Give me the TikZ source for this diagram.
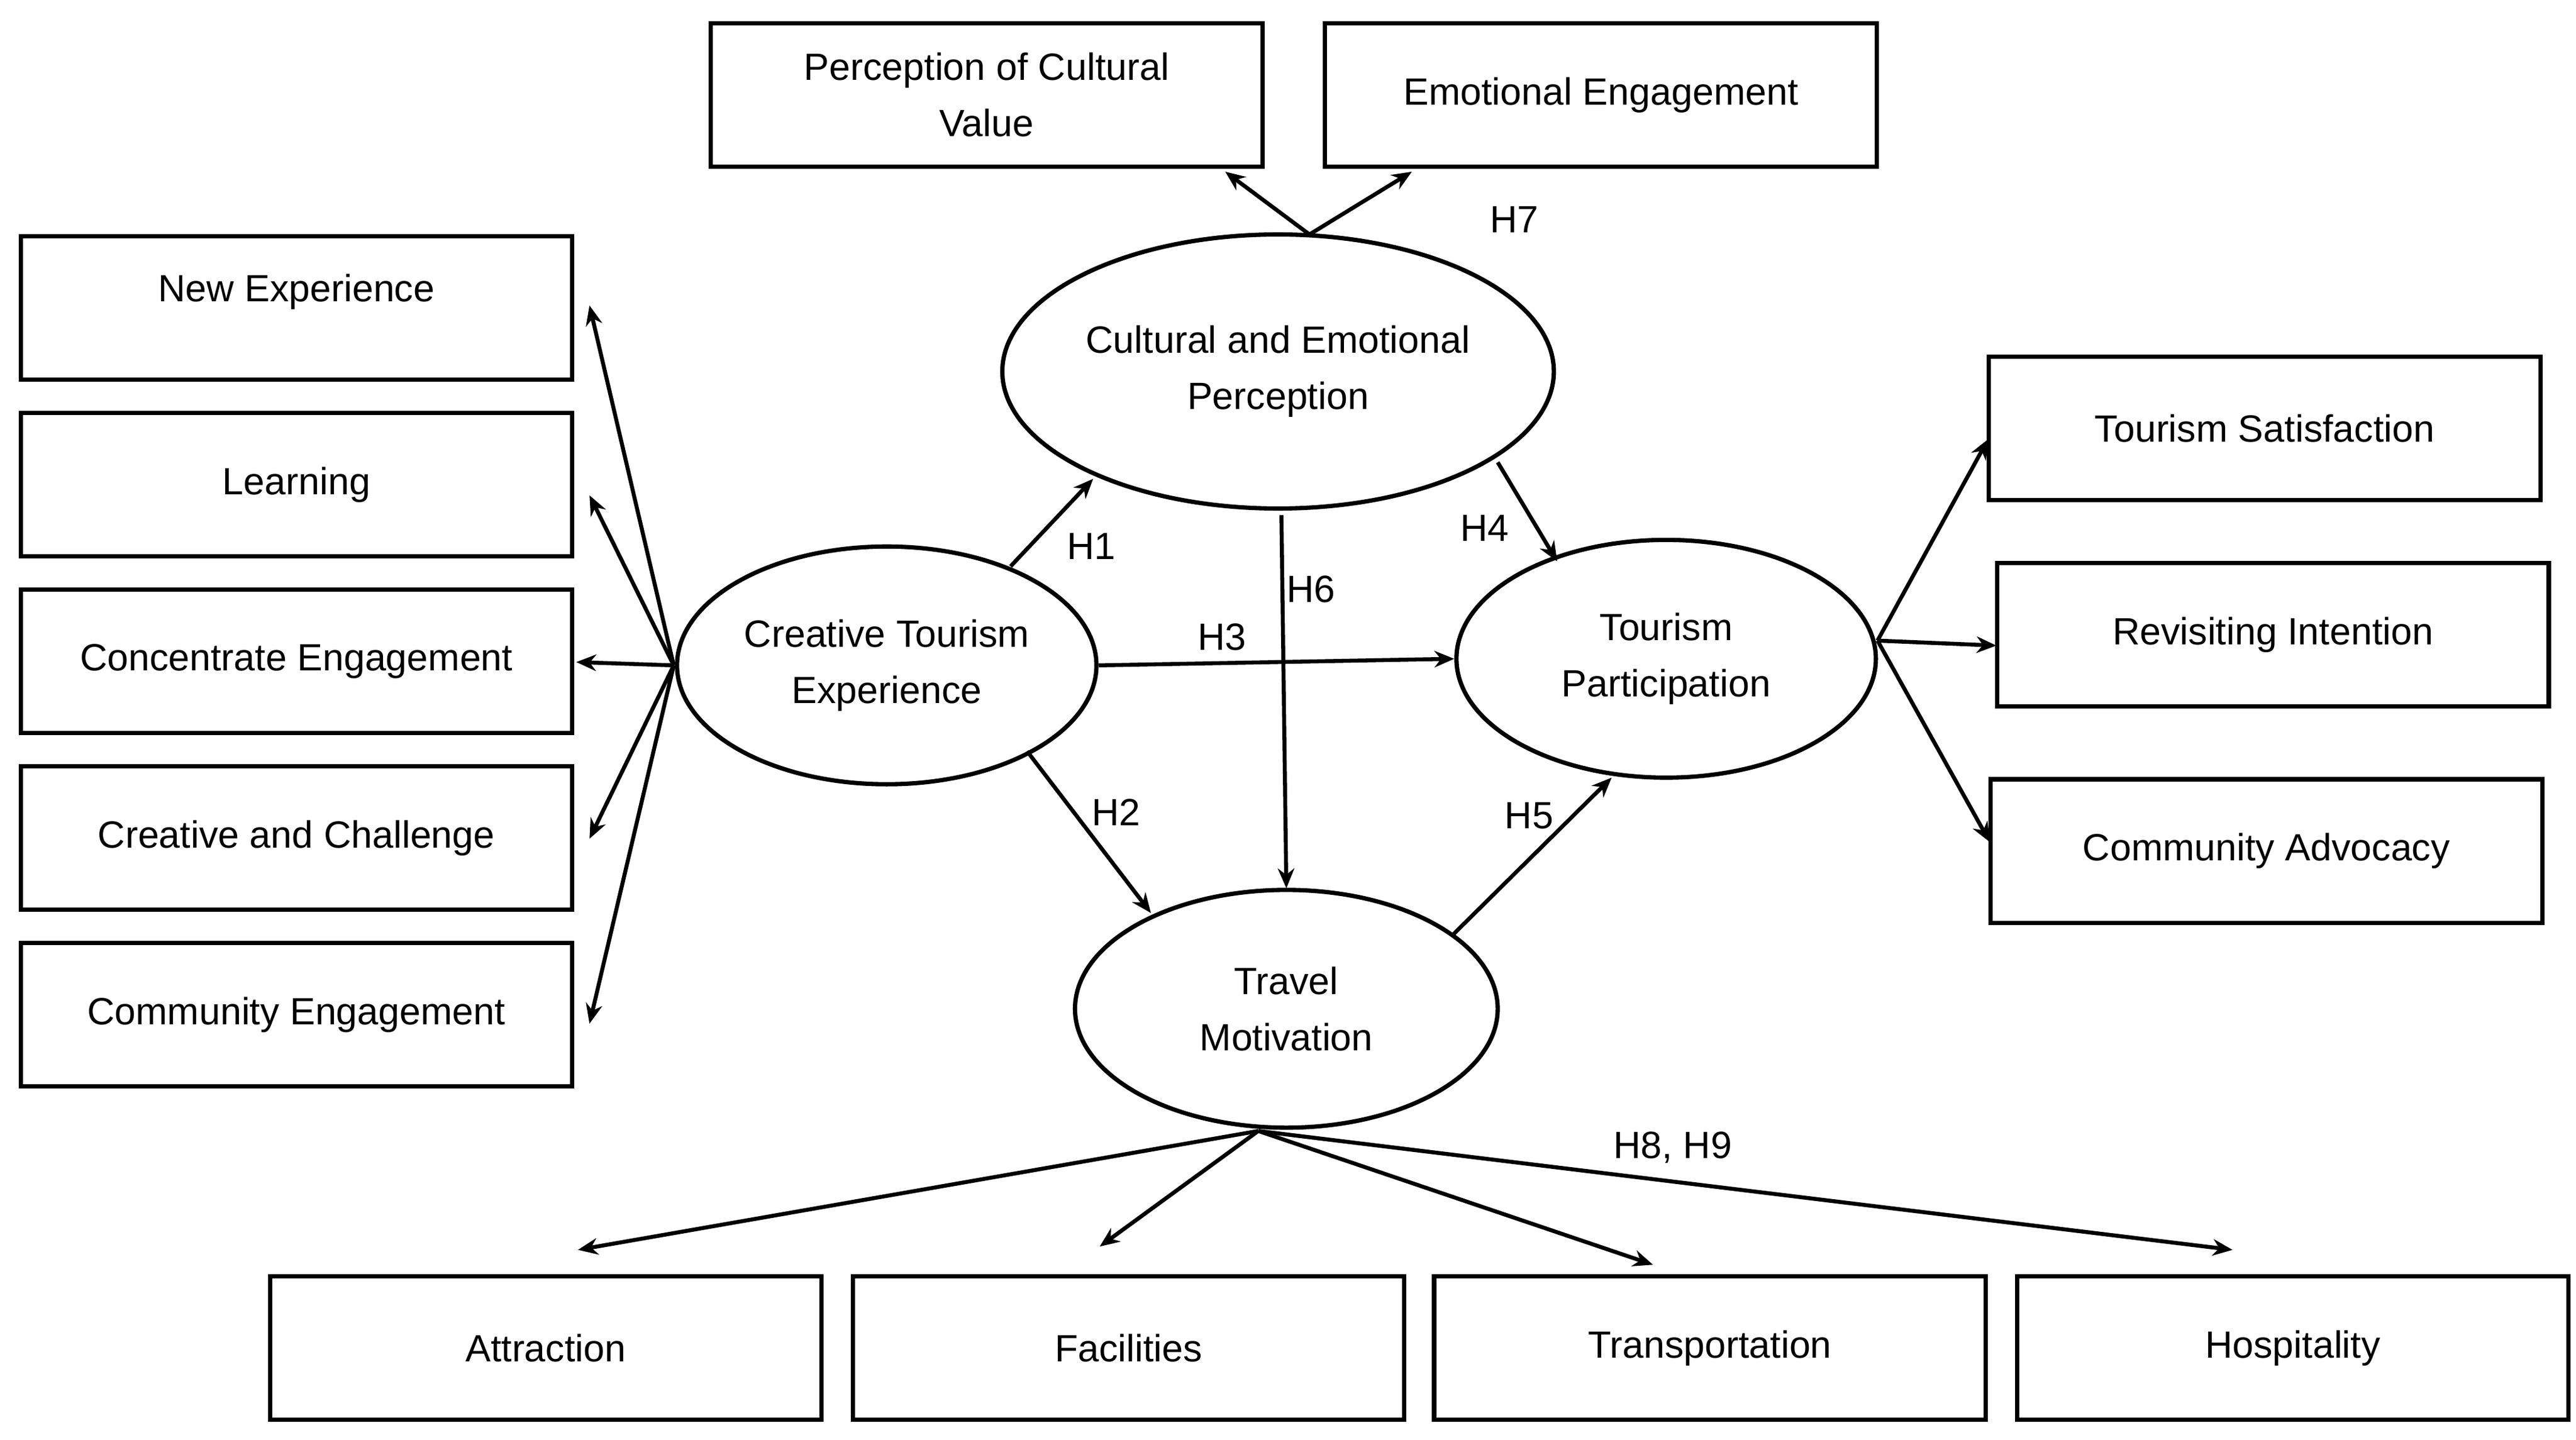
\documentclass[tikz,border=0pt]{standalone}
\usepackage{fontspec}
\setmainfont{Liberation Sans}
\usetikzlibrary{arrows.meta,shapes.geometric}
\begin{document}
\begin{tikzpicture}[x=0.5pt,y=-0.5pt,
 box/.style={draw,line width=1.3pt,minimum width=167pt,minimum height=43.5pt,align=center,font=\fontsize{11.5}{17}\selectfont,inner sep=0pt},
 ell/.style={draw,ellipse,line width=1.3pt,align=center,font=\fontsize{11.5}{17}\selectfont,inner sep=0pt},
 arr/.style={line width=1.2pt,-{Stealth[length=6pt,width=5pt]}},
 lab/.style={font=\fontsize{11.5}{14}\selectfont}]
\useasboundingbox (0,0) rectangle (1560,872);
\node[box] (ne) at (179.5,186.5) {\raisebox{12pt}{New Experience}};
\node[box] (le) at (179.5,293.5) {Learning};
\node[box] (ce) at (179.5,400.5) {Concentrate Engagement};
\node[box] (cc) at (179.5,507.5) {Creative and Challenge};
\node[box] (co) at (179.5,614.5) {Community Engagement};
\node[box] (pc) at (597.5,57.5) {Perception of Cultural\\Value};
\node[box] (ee) at (969.5,57.5) {Emotional Engagement};
\node[box] (ts) at (1371.5,259.5) {Tourism Satisfaction};
\node[box] (ri) at (1376.5,384.5) {Revisiting Intention};
\node[box] (ca) at (1372.5,515.5) {Community Advocacy};
\node[box] (at) at (330.5,816.5) {Attraction};
\node[box] (fa) at (683.5,816.5) {Facilities};
\node[box] (tr) at (1035.5,816.5) {Transportation};
\node[box] (ho) at (1388.5,816.5) {Hospitality};
\node[ell,minimum width=167pt,minimum height=83pt] (cep) at (774,225) {Cultural and Emotional\\Perception};
\node[ell,minimum width=127pt,minimum height=72pt] (cte) at (537,403) {Creative Tourism\\Experience};
\node[ell,minimum width=127pt,minimum height=72pt] (tp) at (1009,399) {Tourism\\Participation};
\node[ell,minimum width=128pt,minimum height=72pt] (tm) at (779,611) {Travel\\Motivation};
\coordinate (l0) at (408,403);
\coordinate (a1) at (357,185); \coordinate (a2) at (357,300); \coordinate (a3) at (349,401);
\coordinate (a4) at (357,508); \coordinate (a5) at (357,620);
\foreach \t in {a1,a2,a3,a4,a5} \draw[arr] (l0) -- (\t);
\coordinate (t0) at (793,142);
\coordinate (b1) at (742,104); \coordinate (b2) at (855,104);
\draw[arr] (t0) -- (b1); \draw[arr] (t0) -- (b2);
\draw[arr] (612,343) -- (662,290);
\draw[arr] (cte.east) -- (tp.west);
\draw[arr] (622,455) -- (697,553);
\draw[arr] (776,312) -- (779,538);
\draw[arr] (907,280) -- (943,340);
\draw[arr] (880,566) -- (976,471);
\coordinate (r0) at (1137,388);
\draw[arr] (r0) -- (1204,266); \draw[arr] (r0) -- (1209,391); \draw[arr] (r0) -- (1205,510);
\coordinate (m0) at (762,685);
\draw[arr] (m0) -- (350,757); \draw[arr] (m0) -- (666,755);
\draw[arr] (m0) -- (1001,766); \draw[arr] (m0) -- (1352,757);
\node[lab] at (917,133) {H7};
\node[lab] at (661,331) {H1};
\node[lab] at (740,386) {H3};
\node[lab] at (676,492) {H2};
\node[lab] at (794,357) {H6};
\node[lab] at (899,320) {H4};
\node[lab] at (926,494) {H5};
\node[lab] at (1013,695) {H8, H9};
\end{tikzpicture}
\end{document}
